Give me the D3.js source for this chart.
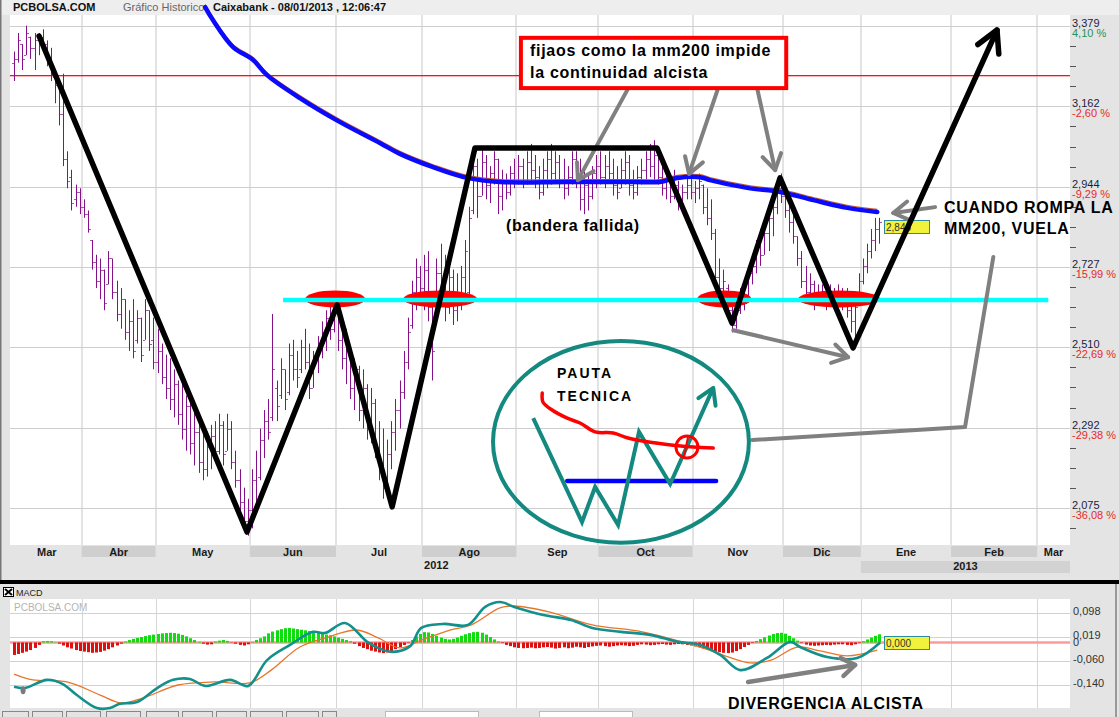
<!DOCTYPE html>
<html><head><meta charset="utf-8">
<script src="https://cdn.jsdelivr.net/npm/d3@7"></script>
<style>
html,body{margin:0;padding:0;background:#fff;}
svg{display:block;font-family:"Liberation Sans",Arial,sans-serif;}
</style></head><body>
<svg id="chart" width="1119" height="717"></svg>
<script>
// ---------------- DATA ----------------
// Daily bars [open, high, low, close], by month (trading-day index runs through them)
const barsMar = [[3.28,3.31,3.23,3.29],[3.29,3.36,3.28,3.34],[3.33,3.33,3.26,3.29],[3.30,3.38,3.30,3.36],[3.35,3.35,3.29,3.32],[3.32,3.36,3.26,3.34],[3.34,3.36,3.30,3.35],[3.35,3.37,3.31,3.33],[3.33,3.34,3.27,3.29],[3.29,3.32,3.23,3.25],[3.24,3.25,3.17,3.22],[3.22,3.23,3.11,3.14],[3.14,3.25,3.00,3.02],[3.02,3.04,2.94,2.96],[2.97,2.99,2.88,2.90],[2.91,2.95,2.89,2.93],[2.93,2.94,2.87,2.89]];
const barsAbr = [[2.89,2.91,2.86,2.87],[2.87,2.88,2.82,2.83],[2.80,2.80,2.72,2.74],[2.74,2.76,2.67,2.69],[2.69,2.75,2.64,2.72],[2.72,2.72,2.61,2.63],[2.68,2.77,2.68,2.75],[2.75,2.75,2.64,2.66],[2.66,2.69,2.58,2.60],[2.60,2.67,2.56,2.64],[2.64,2.64,2.53,2.55],[2.55,2.61,2.50,2.58],[2.58,2.64,2.48,2.50],[2.53,2.61,2.52,2.59],[2.59,2.59,2.47,2.49],[2.53,2.64,2.53,2.61],[2.61,2.61,2.50,2.52],[2.53,2.59,2.45,2.47],[2.47,2.56,2.44,2.50]];
const barsMay = [[2.50,2.52,2.41,2.43],[2.43,2.49,2.37,2.40],[2.40,2.48,2.34,2.37],[2.37,2.45,2.32,2.41],[2.41,2.42,2.30,2.33],[2.33,2.41,2.26,2.29],[2.29,2.38,2.23,2.35],[2.35,2.37,2.22,2.25],[2.25,2.34,2.19,2.28],[2.28,2.31,2.17,2.20],[2.20,2.29,2.15,2.18],[2.18,2.26,2.16,2.24],[2.24,2.30,2.18,2.27],[2.27,2.31,2.21,2.23],[2.23,2.33,2.22,2.30],[2.30,2.31,2.19,2.22],[2.23,2.33,2.23,2.29],[2.29,2.31,2.18,2.20],[2.20,2.23,2.13,2.15],[2.15,2.18,2.06,2.09],[2.09,2.13,2.02,2.04],[2.04,2.10,2.00,2.07]];
const barsJun = [[2.07,2.18,2.02,2.15],[2.15,2.23,2.07,2.10],[2.16,2.29,2.15,2.26],[2.26,2.34,2.21,2.31],[2.31,2.37,2.26,2.28],[2.32,2.60,2.31,2.45],[2.40,2.42,2.31,2.35],[2.38,2.48,2.37,2.45],[2.45,2.45,2.34,2.37],[2.39,2.52,2.38,2.49],[2.49,2.53,2.42,2.45],[2.45,2.50,2.40,2.43],[2.45,2.53,2.44,2.51],[2.51,2.56,2.45,2.47],[2.47,2.52,2.37,2.40],[2.40,2.50,2.40,2.48],[2.48,2.54,2.44,2.52],[2.52,2.58,2.48,2.55],[2.55,2.61,2.50,2.59],[2.59,2.63,2.53,2.56],[2.56,2.63,2.55,2.61]];
const barsJul = [[2.61,2.61,2.50,2.53],[2.53,2.59,2.45,2.48],[2.48,2.56,2.41,2.52],[2.50,2.50,2.37,2.40],[2.40,2.48,2.34,2.45],[2.45,2.46,2.31,2.34],[2.34,2.45,2.29,2.40],[2.40,2.41,2.26,2.29],[2.29,2.40,2.25,2.36],[2.36,2.37,2.21,2.24],[2.24,2.31,2.15,2.19],[2.19,2.29,2.10,2.13],[2.13,2.26,2.13,2.22],[2.22,2.31,2.18,2.28],[2.28,2.37,2.23,2.34],[2.34,2.42,2.29,2.39],[2.39,2.50,2.37,2.47],[2.47,2.59,2.45,2.55],[2.57,2.69,2.56,2.66],[2.66,2.75,2.61,2.70],[2.70,2.73,2.64,2.67]];
const barsAgo = [[2.67,2.76,2.61,2.72],[2.72,2.77,2.58,2.62],[2.62,2.64,2.42,2.50],[2.60,2.75,2.60,2.71],[2.71,2.79,2.64,2.67],[2.67,2.76,2.58,2.62],[2.62,2.75,2.60,2.70],[2.70,2.72,2.57,2.61],[2.61,2.71,2.58,2.66],[2.66,2.73,2.61,2.70],[2.70,2.80,2.64,2.77],[2.66,2.89,2.64,2.86],[2.88,3.04,2.87,3.00],[3.00,3.02,2.86,2.92],[2.92,3.05,2.92,3.01],[3.01,3.03,2.91,2.95],[2.95,3.00,2.90,2.98],[2.98,3.04,2.95,3.02],[3.02,3.02,2.87,2.92],[2.92,2.99,2.88,2.96],[2.96,2.98,2.91,2.93],[2.93,3.00,2.92,2.98],[2.98,3.02,2.94,2.96],[2.96,3.03,2.95,3.00]];
const barsSep = [[3.00,3.02,2.94,2.96],[2.96,3.04,2.95,3.01],[3.01,3.06,2.96,2.99],[2.99,3.03,2.94,2.97],[2.97,3.00,2.91,2.93],[2.93,3.02,2.92,2.99],[2.99,3.04,2.94,3.02],[3.02,3.06,2.95,2.98],[2.98,3.04,2.96,3.01],[3.01,3.03,2.94,2.96],[2.96,3.02,2.91,2.94],[2.94,3.00,2.92,2.97],[2.97,3.04,2.95,3.02],[3.02,3.04,2.94,2.97],[2.97,3.02,2.88,2.91],[2.91,2.99,2.87,2.95],[2.95,2.98,2.88,2.92],[2.92,3.00,2.91,2.98],[2.98,3.03,2.94,3.00],[3.00,3.04,2.95,2.97]];
const barsOct = [[2.97,3.03,2.94,3.00],[3.00,3.04,2.96,2.98],[2.98,3.02,2.92,2.95],[2.95,3.00,2.91,2.93],[2.94,3.02,2.94,2.99],[2.99,3.04,2.95,3.01],[3.01,3.03,2.92,2.95],[2.95,2.99,2.91,2.93],[2.93,3.00,2.92,2.97],[2.97,3.02,2.95,2.99],[2.99,3.04,2.96,3.02],[3.02,3.06,2.97,3.00],[3.00,3.07,2.96,3.03],[3.03,3.04,2.95,2.97],[2.97,3.02,2.92,2.94],[2.94,2.99,2.91,2.96],[2.96,2.98,2.90,2.92],[2.92,2.99,2.91,2.97],[2.95,2.96,2.88,2.90],[2.90,2.95,2.90,2.93],[2.93,2.97,2.91,2.95],[2.95,2.98,2.91,2.93]];
const barsNov = [[2.93,2.96,2.90,2.94],[2.94,2.98,2.91,2.96],[2.95,2.95,2.87,2.89],[2.89,2.94,2.84,2.86],[2.86,2.91,2.80,2.82],[2.82,2.83,2.67,2.70],[2.70,2.75,2.64,2.67],[2.67,2.72,2.63,2.69],[2.67,2.68,2.59,2.61],[2.61,2.64,2.55,2.57],[2.57,2.63,2.56,2.61],[2.61,2.67,2.60,2.65],[2.65,2.69,2.61,2.63],[2.64,2.73,2.64,2.71],[2.71,2.76,2.68,2.73],[2.73,2.80,2.71,2.78],[2.78,2.83,2.73,2.76],[2.76,2.84,2.76,2.82],[2.82,2.88,2.77,2.86],[2.86,2.92,2.81,2.89],[2.89,2.96,2.87,2.94],[2.94,2.98,2.90,2.92]];
const barsDic = [[2.92,2.95,2.86,2.88],[2.88,2.91,2.82,2.85],[2.85,2.88,2.79,2.81],[2.81,2.81,2.73,2.75],[2.75,2.77,2.67,2.69],[2.69,2.73,2.64,2.66],[2.66,2.71,2.63,2.68],[2.68,2.69,2.61,2.64],[2.64,2.68,2.64,2.66],[2.66,2.68,2.63,2.65],[2.65,2.69,2.61,2.67],[2.67,2.68,2.63,2.64],[2.64,2.67,2.61,2.65],[2.65,2.68,2.63,2.66],[2.66,2.67,2.61,2.63],[2.63,2.67,2.59,2.61],[2.61,2.64,2.55,2.58],[2.58,2.64,2.52,2.62],[2.64,2.71,2.64,2.69]];
const barsEne = [[2.69,2.75,2.68,2.73],[2.73,2.79,2.71,2.77],[2.77,2.83,2.75,2.80],[2.80,2.86,2.77,2.83],[2.83,2.86,2.79,2.848]];

// Moving average 200 (hand-traced blue), [trading-day index, price]
const mm200 = [[46.6,3.430],[48.5,3.395],[53.4,3.322],[58.3,3.287],[61.7,3.246],[69.7,3.184],[79.5,3.119],[89.3,3.062],[94.1,3.033],[102.2,2.997],[110.5,2.968],[118.5,2.957],[134.9,2.957],[151,2.957],[157.5,2.957],[161.7,2.968],[167.3,2.970],[169.7,2.962],[178.8,2.941],[186.8,2.930],[194.9,2.908],[203.2,2.887],[210.5,2.876]];

// Axis
const priceTicks = [3.379, 3.162, 2.944, 2.727, 2.510, 2.292, 2.075];
const pctLabels = ["4,10 %","-2,60 %","-9,29 %","-15,99 %","-22,69 %","-29,38 %","-36,08 %"];
const monthLabels = ["Mar","Abr","May","Jun","Jul","Ago","Sep","Oct","Nov","Dic","Ene","Feb","Mar"];
const monthStarts = [0,17,35,58,79,100,123,143,166,188,207,229,250];
const lastIndex = 258;
const yearLabels = ["2012","2013"];
const yearStarts = [100,207];

// Annotations, [trading-day index, price]
const resistanceLevel = 3.246;
const supportLevel = 2.638;
const supportRange = [65.6, 252.2];
const supportTouches = [[78.3,7.3],[103.9,9],[173.2,6.6],[201.2,10]]; // [centre index, half-width in days]
const zigzag = [[6.1,3.352],[56.8,2.010],[78.8,2.624],[92.2,2.078],[112.4,3.049],[156.8,3.049],[175.1,2.575],[186.8,2.968],[204.6,2.508],[239.7,3.368]];
const noteBox = [[123.6,3.347],[188.3,3.211]];
const noteArrows = [[[150.2,3.219],[137.5,2.962]],[[171.7,3.211],[164.6,2.979]],[[181.2,3.211],[185.6,2.989]],[[175.4,2.556],[203.4,2.483]],[[224.6,2.889],[214.4,2.873]]];
const linkLine = [[180,2.259],[231.9,2.294],[238.8,2.754]];
const insetCenter = [148.0,2.254];
const insetRadii = [31.2,0.273];
const insetW = [[126.6,2.318],[138.5,2.037],[141.7,2.132],[147.3,2.029],[152.4,2.281],[160,2.140],[170.5,2.400]];
const insetLevel = [2.148, 134.9, 171.2];
const insetMA = [[128.8,2.386],[129,2.361],[131.2,2.340],[134.9,2.318],[138,2.305],[141.7,2.281],[146.1,2.278],[149.5,2.265],[154.4,2.254],[160.7,2.245],[165.6,2.240],[170.5,2.237]];
const insetBreak = [164.1,2.240];

// MACD panel
const macdLine = [[0,-0.146],[2.7,-0.150],[8,-0.123],[11.9,-0.137],[15.3,-0.173],[20.2,-0.216],[23.4,-0.216],[25.8,-0.202],[30,-0.196],[34.9,-0.150],[38.8,-0.123],[42.9,-0.120],[46.6,-0.143],[52.7,-0.123],[57.1,-0.143],[61.7,-0.058],[67.3,-0.008],[72.9,0.035],[75.8,0.031],[80.7,0.064],[86.1,0.002],[89.3,-0.021],[92.4,-0.031],[96.6,-0.012],[99.3,0.048],[104.6,0.061],[110.7,0.058],[114.9,0.117],[118.5,0.133],[122,0.117],[128.8,0.091],[135.8,0.074],[141,0.048],[148,0.035],[155.1,0.025],[161.9,0.002],[167.3,-0.008],[172.2,-0.041],[177.1,-0.091],[183.6,-0.051],[189.3,0.002],[191.7,-0.015],[198.3,-0.048],[205.6,-0.051],[211.2,0.000]];
const signalLine = [[0,-0.104],[4.6,-0.123],[12.9,-0.130],[21,-0.173],[26.1,-0.199],[31.4,-0.183],[40,-0.140],[48.8,-0.130],[57.5,-0.133],[62.7,-0.091],[69.7,-0.015],[76.6,0.018],[83.6,0.041],[88.8,0.015],[94.1,-0.018],[99.3,0.008],[106.3,0.041],[111.5,0.058],[118.5,0.114],[122,0.120],[130.7,0.100],[141,0.058],[153.2,0.035],[167.3,-0.015],[179.5,-0.067],[184.6,-0.058],[191,-0.015],[196.6,-0.028],[203.2,-0.044],[210.5,-0.025]];
const macdHist = [
-0.041,-0.038,-0.034,-0.030,-0.025,-0.018,-0.008,0.004,0.005,0.004,
0.001,-0.004,-0.010,-0.016,-0.020,-0.025,-0.028,-0.030,-0.032,-0.034,
-0.033,-0.031,-0.027,-0.022,-0.016,-0.010,-0.004,0.003,0.008,0.012,
0.015,0.018,0.021,0.024,0.026,0.028,0.030,0.031,0.032,0.031,
0.029,0.025,0.020,0.014,0.008,0.002,-0.004,-0.007,-0.006,0.003,
0.006,0.008,0.005,-0.001,-0.004,-0.008,-0.010,-0.006,0.002,0.008,
0.014,0.020,0.030,0.036,0.040,0.044,0.047,0.048,0.046,0.044,
0.042,0.040,0.038,0.036,0.035,0.030,0.026,0.024,0.020,0.016,
0.012,0.008,0.004,-0.004,-0.012,-0.018,-0.022,-0.027,-0.030,-0.033,
-0.035,-0.033,-0.028,-0.022,-0.015,-0.008,-0.002,0.008,0.020,0.028,
0.034,0.033,0.028,0.022,0.016,0.012,0.010,0.012,0.016,0.022,
0.027,0.031,0.034,0.035,0.032,0.026,0.018,0.010,0.003,-0.002,
-0.008,-0.012,-0.016,-0.018,-0.019,-0.018,-0.017,-0.019,-0.018,-0.016,
-0.015,-0.017,-0.020,-0.018,-0.016,-0.019,-0.017,-0.014,-0.016,-0.018,
-0.015,-0.013,-0.011,-0.010,-0.012,-0.014,-0.012,-0.010,-0.009,-0.010,
-0.012,-0.011,-0.008,-0.006,-0.007,-0.009,-0.008,-0.006,-0.005,-0.007,
-0.008,-0.006,-0.005,-0.006,-0.008,-0.010,-0.013,-0.016,-0.020,-0.024,
-0.027,-0.030,-0.032,-0.034,-0.035,-0.033,-0.028,-0.022,-0.015,-0.008,
-0.002,0.005,0.011,0.017,0.023,0.028,0.031,0.032,0.029,0.022,
0.014,0.006,-0.002,-0.007,-0.010,-0.011,-0.010,-0.009,-0.008,-0.009,
-0.007,-0.006,-0.006,-0.008,-0.009,-0.006,-0.002,0.004,0.010,0.016,
0.022,0.027];
const macdTicks = [0.098, 0.019, 0, -0.060, -0.140];
const macdTickLabels = ["0,098","0,019","0","-0,060","-0,140"];
const divergenceArrow = [[179.0,-0.130],[205.1,-0.074]];
const cursorMark = [2.2,-0.157];

// ---------------- RENDER ----------------
const svg = d3.select("#chart");
const W = 1119, H = 717;
const P = {left:10, right:1070, top:14, bottom:545};
const MP = {top:599, bottom:708};
const x = d3.scaleLinear().domain([0, lastIndex]).range([12, 1070]);
const X = i => x(i + 0.5);
const y = d3.scaleLinear().domain([2.075, 3.379]).range([508, 26]);
const yM = d3.scaleLinear().domain([-0.140, 0.098]).range([685, 612.7]);
const fmt3 = v => d3.format(".3f")(v).replace(".", ",");

const bars = [].concat(barsMar, barsAbr, barsMay, barsJun, barsJul, barsAgo, barsSep, barsOct, barsNov, barsDic, barsEne);

// backgrounds
svg.append("rect").attr("width", W).attr("height", H).attr("fill", "#e4e4e4");
svg.append("rect").attr("x", 0).attr("y", 0).attr("width", W).attr("height", 15).attr("fill", "#eeeeee");
svg.append("rect").attr("x", P.left).attr("y", 15).attr("width", P.right - P.left).attr("height", P.bottom - 15).attr("fill", "#fff");
svg.append("rect").attr("x", 0).attr("y", 0).attr("width", 1.5).attr("height", 580).attr("fill", "#777");

// header
const hdr = svg.append("g").attr("font-size", 11);
hdr.append("text").attr("x", 13).attr("y", 10.5).attr("font-weight", "bold").attr("fill", "#111").text("PCBOLSA.COM");
hdr.append("text").attr("x", 123).attr("y", 10.5).attr("fill", "#666").text("Gráfico Historico");
hdr.append("text").attr("x", 213).attr("y", 10.5).attr("font-weight", "bold").attr("fill", "#111").text("Caixabank - 08/01/2013 , 12:06:47");

// vertical month grid
svg.append("g").selectAll("line").data(monthStarts.slice(1)).join("line")
  .attr("x1", d => Math.round(x(d))).attr("x2", d => Math.round(x(d)))
  .attr("y1", 15).attr("y2", P.bottom).attr("stroke", "#e3e3e3").attr("stroke-width", 2);
// horizontal grid
svg.append("g").selectAll("line").data(priceTicks).join("line")
  .attr("x1", P.left).attr("x2", P.right)
  .attr("y1", d => Math.round(y(d)) + 0.5).attr("y2", d => Math.round(y(d)) + 0.5)
  .attr("stroke", "#cdcdcd");

// resistance red line
svg.append("rect").attr("x", P.left).attr("width", P.right - P.left)
  .attr("y", Math.round(y(resistanceLevel))).attr("height", 1.3)
  .attr("fill", "#ff1010");

// right axis panel
svg.append("rect").attr("x", P.right).attr("y", 15).attr("width", W - P.right).attr("height", P.bottom - 15).attr("fill", "#e4e4e4");
const step = (priceTicks[0] - priceTicks[priceTicks.length - 1]) / 24;
const minor = d3.range(-1, 25).filter(k => k % 4 !== 0).map(k => priceTicks[priceTicks.length - 1] + k * step);
svg.append("g").selectAll("line").data(minor).join("line")
  .attr("x1", P.right).attr("x2", P.right + 6)
  .attr("y1", d => Math.round(y(d)) + 0.5).attr("y2", d => Math.round(y(d)) + 0.5)
  .attr("stroke", "#555");
const axR = svg.append("g").attr("font-size", 11);
axR.selectAll("text.p").data(priceTicks).join("text").attr("class", "p")
  .attr("x", P.right + 2).attr("y", d => y(d) + 1).attr("fill", "#1c1c3c").text(d => fmt3(d));
axR.selectAll("text.c").data(pctLabels).join("text").attr("class", "c")
  .attr("x", P.right + 2).attr("y", (d, i) => y(priceTicks[i]) + 11)
  .attr("fill", (d, i) => i === 0 ? "#1f9255" : "#e52b2b").text(d => d);

// x axis band
svg.append("rect").attr("x", P.left).attr("y", P.bottom).attr("width", W - P.left).attr("height", 35).attr("fill", "#e4e4e4");
const monthEnds = monthStarts.slice(1).concat([lastIndex]);
svg.append("g").selectAll("rect").data(monthStarts.map((s, i) => [s, monthEnds[i], i])).join("rect")
  .attr("x", d => x(d[0])).attr("width", d => x(d[1]) - x(d[0]))
  .attr("y", P.bottom + 1).attr("height", 11)
  .attr("fill", d => d[2] % 2 === 1 ? "#cfcfcf" : "none");
svg.append("rect").attr("x", x(yearStarts[1])).attr("width", x(lastIndex) - x(yearStarts[1]))
  .attr("y", 561).attr("height", 12).attr("fill", "#d2d2d2");
svg.append("g").attr("font-size", 11).attr("font-weight", "bold").attr("fill", "#1a1a1a")
  .selectAll("text").data(monthStarts.map((s, i) => [s, monthEnds[i], monthLabels[i]])).join("text")
  .attr("x", d => (x(d[0]) + x(d[1])) / 2).attr("y", 556).attr("text-anchor", "middle").text(d => d[2]);
svg.append("text").attr("x", x(yearStarts[0]) + 2).attr("y", 569).attr("font-size", 11).attr("font-weight", "bold").attr("fill", "#1a1a1a").text(yearLabels[0]);
svg.append("text").attr("x", (x(yearStarts[1]) + x(lastIndex)) / 2).attr("y", 570).attr("text-anchor", "middle").attr("font-size", 11).attr("font-weight", "bold").attr("fill", "#1a1a1a").text(yearLabels[1]);

// price bars
const gb = svg.append("g").attr("stroke-width", 1);
gb.selectAll("line.hl").data(bars).join("line").attr("class", "hl")
  .attr("x1", (d, i) => Math.round(X(i)) + 0.5).attr("x2", (d, i) => Math.round(X(i)) + 0.5)
  .attr("y1", d => y(d[1])).attr("y2", d => y(d[2])).attr("stroke", "#85108a");
gb.selectAll("line.o").data(bars).join("line").attr("class", "o")
  .attr("x1", (d, i) => Math.round(X(i)) - 2).attr("x2", (d, i) => Math.round(X(i)))
  .attr("y1", d => Math.round(y(d[0])) + 0.5).attr("y2", d => Math.round(y(d[0])) + 0.5).attr("stroke", "#a45aa8");
gb.selectAll("line.c").data(bars).join("line").attr("class", "c")
  .attr("x1", (d, i) => Math.round(X(i)) + 1).attr("x2", (d, i) => Math.round(X(i)) + 3)
  .attr("y1", d => Math.round(y(d[3])) + 0.5).attr("y2", d => Math.round(y(d[3])) + 0.5).attr("stroke", "#a45aa8");

// mm200
const lineP = d3.line().x(d => X(d[0])).y(d => y(d[1]));
const lineS = d3.line().x(d => X(d[0])).y(d => y(d[1])).curve(d3.curveCatmullRom);
svg.append("path").attr("d", lineS(mm200)).attr("fill", "none").attr("stroke", "#c8602a").attr("stroke-width", 1.2).attr("transform", "translate(0,-2.5)");
svg.append("path").attr("d", lineS(mm200)).attr("fill", "none").attr("stroke", "#0a0aff").attr("stroke-width", 4.5).attr("stroke-linecap", "round").attr("stroke-linejoin", "round");

// support touches (red ellipses) and support line
svg.append("g").selectAll("ellipse").data(supportTouches).join("ellipse")
  .attr("cx", d => X(d[0])).attr("cy", y(supportLevel) - 1)
  .attr("rx", d => X(d[0] + d[1]) - X(d[0])).attr("ry", 8.5).attr("fill", "#ff0000");
svg.append("line").attr("x1", X(supportRange[0])).attr("x2", X(supportRange[1]))
  .attr("y1", y(supportLevel)).attr("y2", y(supportLevel)).attr("stroke", "#00ffff").attr("stroke-width", 4.5);

// price tag
const last = bars[bars.length - 1][3];
svg.append("rect").attr("x", 884.5).attr("y", Math.round(y(last)) - 1.5).attr("width", 45).attr("height", 13)
  .attr("fill", "#f2f23c").attr("stroke", "#2a8c9c");
svg.append("text").attr("x", 886).attr("y", Math.round(y(last)) + 9).attr("font-size", 10).attr("fill", "#333").text(fmt3(last));

// arrow helper
function arrowHead(g, from, to, len, ang, color, w) {
  const a = Math.atan2(to[1] - from[1], to[0] - from[0]);
  const p1 = [to[0] - len * Math.cos(a - ang), to[1] - len * Math.sin(a - ang)];
  const p2 = [to[0] - len * Math.cos(a + ang), to[1] - len * Math.sin(a + ang)];
  g.append("path").attr("d", `M${p1[0]},${p1[1]}L${to[0]},${to[1]}L${p2[0]},${p2[1]}`)
    .attr("fill", "none").attr("stroke", color).attr("stroke-width", w)
    .attr("stroke-linecap", "round").attr("stroke-linejoin", "round");
}
const px = d => [X(d[0]), y(d[1])];

// grey arrows
const ga = svg.append("g");
noteArrows.forEach(a => {
  ga.append("path").attr("d", lineP(a)).attr("fill", "none").attr("stroke", "#808080").attr("stroke-width", 4).attr("stroke-linecap", "round");
  arrowHead(ga, px(a[0]), px(a[1]), 18, 0.55, "#808080", 4);
});
ga.append("path").attr("d", lineP(linkLine)).attr("fill", "none").attr("stroke", "#808080").attr("stroke-width", 4).attr("stroke-linecap", "round").attr("stroke-linejoin", "round");

// black zigzag
const gz = svg.append("g");
gz.append("path").attr("d", lineP(zigzag)).attr("fill", "none").attr("stroke", "#000").attr("stroke-width", 5.5)
  .attr("stroke-linejoin", "round").attr("stroke-linecap", "round");
arrowHead(gz, px(zigzag[zigzag.length - 2]), px(zigzag[zigzag.length - 1]), 24, 0.5, "#000", 5.5);

// note box
const b0 = px(noteBox[0]), b1 = px(noteBox[1]);
svg.append("rect").attr("x", b0[0]).attr("y", b0[1]).attr("width", b1[0] - b0[0]).attr("height", b1[1] - b0[1])
  .attr("fill", "#fff").attr("stroke", "#ff0000").attr("stroke-width", 4);
const tb = svg.append("g").attr("font-size", 16).attr("font-weight", "bold").attr("fill", "#000").attr("letter-spacing", 0.7);
tb.append("text").attr("x", 530).attr("y", 56).text("fijaos como la mm200 impide");
tb.append("text").attr("x", 530).attr("y", 78).text("la continuidad alcista");
const tt = svg.append("g").attr("font-size", 16).attr("font-weight", "bold").attr("fill", "#000");
tt.append("text").attr("x", 506).attr("y", 231).attr("letter-spacing", 0.6).text("(bandera fallida)");
tt.append("text").attr("x", 944).attr("y", 213).attr("letter-spacing", 0.75).text("CUANDO ROMPA LA");
tt.append("text").attr("x", 944).attr("y", 234).attr("letter-spacing", 0.75).text("MM200, VUELA");

// inset: technical pattern
const gi = svg.append("g");
const ic = px(insetCenter);
gi.append("ellipse").attr("cx", ic[0]).attr("cy", ic[1])
  .attr("rx", X(insetCenter[0] + insetRadii[0]) - ic[0]).attr("ry", y(insetCenter[1] - insetRadii[1]) - ic[1])
  .attr("fill", "none").attr("stroke", "#13897f").attr("stroke-width", 4);
gi.append("line").attr("x1", X(insetLevel[1])).attr("x2", X(insetLevel[2]))
  .attr("y1", y(insetLevel[0])).attr("y2", y(insetLevel[0])).attr("stroke", "#0000ff").attr("stroke-width", 4.5).attr("stroke-linecap", "round");
gi.append("path").attr("d", lineP(insetW)).attr("fill", "none").attr("stroke", "#13897f").attr("stroke-width", 4).attr("stroke-linejoin", "miter");
arrowHead(gi, px(insetW[insetW.length - 2]), px(insetW[insetW.length - 1]), 18, 0.55, "#13897f", 4);
gi.append("path").attr("d", lineS(insetMA)).attr("fill", "none").attr("stroke", "#ff0000").attr("stroke-width", 3.5).attr("stroke-linecap", "round");
gi.append("circle").attr("cx", X(insetBreak[0])).attr("cy", y(insetBreak[1])).attr("r", 11)
  .attr("fill", "none").attr("stroke", "#ff0000").attr("stroke-width", 3);
gi.append("line").attr("x1", X(insetBreak[0]) - 3).attr("x2", X(insetBreak[0]) + 1)
  .attr("y1", y(insetBreak[1]) + 10).attr("y2", y(insetBreak[1]) - 10).attr("stroke", "#ff0000").attr("stroke-width", 2);
const ti = gi.append("g").attr("font-size", 14).attr("font-weight", "bold").attr("fill", "#000").attr("letter-spacing", 2);
ti.append("text").attr("x", 557).attr("y", 378).text("PAUTA");
ti.append("text").attr("x", 557).attr("y", 401).text("TECNICA");

// ---------------- MACD PANEL ----------------
svg.append("rect").attr("x", 0).attr("y", 580).attr("width", W).attr("height", 4).attr("fill", "#000");
svg.append("rect").attr("x", 0).attr("y", 584).attr("width", W).attr("height", H - 584).attr("fill", "#e4e4e4");
svg.append("rect").attr("x", P.left).attr("y", MP.top).attr("width", P.right - P.left).attr("height", MP.bottom - MP.top).attr("fill", "#fff");
svg.append("rect").attr("x", 3.5).attr("y", 587.5).attr("width", 10).attr("height", 9).attr("fill", "#fff").attr("stroke", "#000");
svg.append("path").attr("d", "M5,589L12,595M12,589L5,595").attr("stroke", "#000").attr("stroke-width", 2);
svg.append("text").attr("x", 16).attr("y", 596).attr("font-size", 9).attr("fill", "#222").text("MACD");
svg.append("text").attr("x", 14).attr("y", 611).attr("font-size", 10).attr("fill", "#b4b4b4").text("PCBOLSA.COM");

svg.append("g").selectAll("line").data(monthStarts.slice(1)).join("line")
  .attr("x1", d => Math.round(x(d)) + 0.5).attr("x2", d => Math.round(x(d)) + 0.5)
  .attr("y1", MP.top).attr("y2", MP.bottom).attr("stroke", "#d6d6d6");
svg.append("g").selectAll("line").data(macdTicks.filter(t => t !== 0)).join("line")
  .attr("x1", P.left).attr("x2", P.right)
  .attr("y1", d => Math.round(yM(d)) + 0.5).attr("y2", d => Math.round(yM(d)) + 0.5)
  .attr("stroke", "#d2d2d2");
svg.append("line").attr("x1", P.left).attr("x2", P.right).attr("y1", yM(0)).attr("y2", yM(0))
  .attr("stroke", "#ff9a9a").attr("stroke-width", 2.5);

svg.append("g").selectAll("rect").data(macdHist).join("rect")
  .attr("x", (d, i) => Math.round(X(i)) - 1).attr("width", 3)
  .attr("y", d => d >= 0 ? yM(d) : yM(0)).attr("height", d => Math.abs(yM(d) - yM(0)))
  .attr("fill", d => d >= 0 ? "#10dd10" : "#dd1010");

const lineM = d3.line().x(d => X(d[0])).y(d => yM(d[1])).curve(d3.curveCatmullRom);
svg.append("path").attr("d", lineM(signalLine)).attr("fill", "none").attr("stroke", "#e8762a").attr("stroke-width", 1.3);
svg.append("path").attr("d", lineM(macdLine)).attr("fill", "none").attr("stroke", "#14908c").attr("stroke-width", 2.6);
svg.append("ellipse").attr("cx", X(cursorMark[0])).attr("cy", yM(cursorMark[1])).attr("rx", 2.5).attr("ry", 4).attr("fill", "#7a7a7a");

const lastM = macdLine[macdLine.length - 1][1];
svg.append("rect").attr("x", 884.5).attr("y", Math.round(yM(lastM)) - 5.5).attr("width", 45).attr("height", 13)
  .attr("fill", "#f2f23c").attr("stroke", "#2a8c9c");
svg.append("text").attr("x", 886).attr("y", Math.round(yM(lastM)) + 5).attr("font-size", 10).attr("fill", "#333").text(fmt3(lastM));

// divergence arrow + text
const gd = svg.append("g");
const pm = d => [X(d[0]), yM(d[1])];
gd.append("path").attr("d", `M${pm(divergenceArrow[0])}L${pm(divergenceArrow[1])}`).attr("stroke", "#808080").attr("stroke-width", 4.5).attr("stroke-linecap", "round");
arrowHead(gd, pm(divergenceArrow[0]), pm(divergenceArrow[1]), 16, 0.6, "#808080", 4.5);
svg.append("text").attr("x", 728).attr("y", 709).attr("font-size", 16).attr("font-weight", "bold").attr("letter-spacing", 0.7).attr("fill", "#000").text("DIVERGENCIA ALCISTA");

// right labels
svg.append("g").attr("font-size", 11).attr("fill", "#333").selectAll("text").data(macdTicks).join("text")
  .attr("x", P.right + 3).attr("y", d => yM(d) + (d === 0 ? 4 : 2)).text((d, i) => macdTickLabels[i]);
svg.append("line").attr("x1", 1116).attr("x2", 1116).attr("y1", 584).attr("y2", H).attr("stroke", "#999").attr("stroke-width", 2);

// bottom tabs
const tabs = [[2,28],[32,62],[66,100],[106,140],[146,178],[182,212],[216,246],[250,282],[286,318],[322,336]];
svg.append("g").selectAll("rect").data(tabs).join("rect")
  .attr("x", d => d[0] + 0.5).attr("y", 711.5).attr("width", d => d[1] - d[0]).attr("height", 8)
  .attr("fill", "#e4e4e4").attr("stroke", "#888");
svg.append("g").selectAll("rect").data([[385,478],[539,632]]).join("rect")
  .attr("x", d => d[0] + 0.5).attr("y", 711.5).attr("width", d => d[1] - d[0]).attr("height", 8)
  .attr("fill", "#fff").attr("stroke", "#bbb");
</script>
</body></html>
